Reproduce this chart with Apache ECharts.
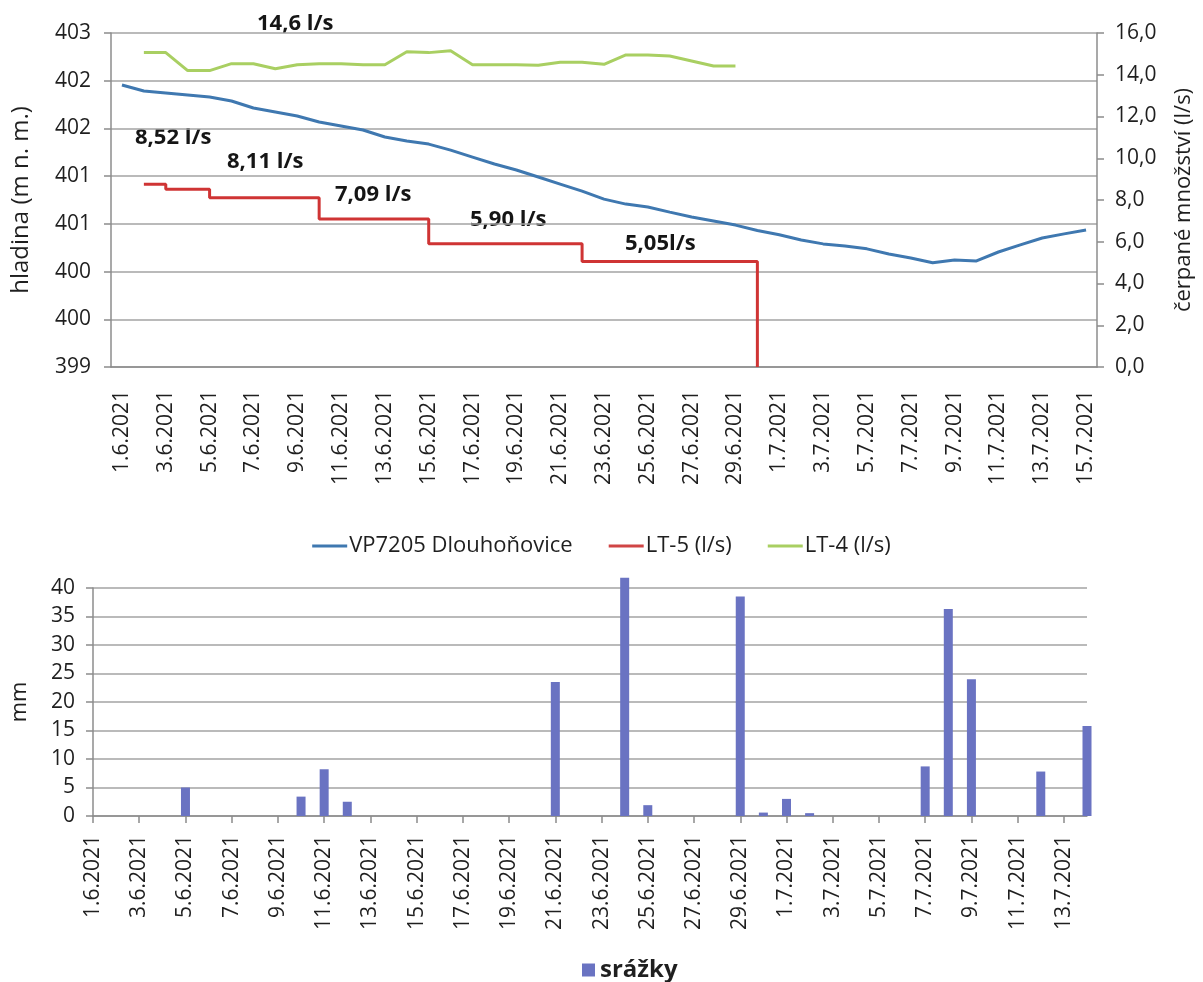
<!DOCTYPE html>
<html>
<head>
<meta charset="utf-8">
<script src="https://cdn.jsdelivr.net/npm/echarts@6/dist/echarts.min.js"></script>
<style>
html,body{margin:0;padding:0;background:#fff;}
#c{width:1203px;height:982px;}
</style>
</head>
<body>
<div id="c"></div>
<script>
// ---- data ----
var datesTop = ["1.6.2021","2.6.2021","3.6.2021","4.6.2021","5.6.2021","6.6.2021","7.6.2021","8.6.2021","9.6.2021","10.6.2021",
"11.6.2021","12.6.2021","13.6.2021","14.6.2021","15.6.2021","16.6.2021","17.6.2021","18.6.2021","19.6.2021","20.6.2021",
"21.6.2021","22.6.2021","23.6.2021","24.6.2021","25.6.2021","26.6.2021","27.6.2021","28.6.2021","29.6.2021","30.6.2021",
"1.7.2021","2.7.2021","3.7.2021","4.7.2021","5.7.2021","6.7.2021","7.7.2021","8.7.2021","9.7.2021","10.7.2021",
"11.7.2021","12.7.2021","13.7.2021","14.7.2021","15.7.2021"];
var datesBottom = ["1.6.2021","2.6.2021","3.6.2021","4.6.2021","5.6.2021","6.6.2021","7.6.2021","8.6.2021","9.6.2021","10.6.2021",
"11.6.2021","12.6.2021","13.6.2021","14.6.2021","15.6.2021","16.6.2021","17.6.2021","18.6.2021","19.6.2021","20.6.2021",
"21.6.2021","22.6.2021","23.6.2021","24.6.2021","25.6.2021","26.6.2021","27.6.2021","28.6.2021","29.6.2021","30.6.2021",
"1.7.2021","2.7.2021","3.7.2021","4.7.2021","5.7.2021","6.7.2021","7.7.2021","8.7.2021","9.7.2021","10.7.2021",
"11.7.2021","12.7.2021","13.7.2021","14.7.2021"];

var vp7205 = [401.955,401.892,401.871,401.850,401.829,401.787,401.714,401.672,401.630,401.567,
401.525,401.483,401.410,401.368,401.336,401.273,401.200,401.127,401.064,400.991,
400.917,400.843,400.759,400.707,400.676,400.623,400.571,400.529,400.487,400.430,
400.385,400.330,400.290,400.268,400.238,400.185,400.143,400.092,400.122,400.112,
400.205,400.280,400.352,400.395,400.435];

var lt5 = [null,8.75,8.52,8.52,8.11,8.11,8.11,8.11,8.11,7.09,
7.09,7.09,7.09,7.09,5.90,5.90,5.90,5.90,5.90,5.90,
5.90,5.05,5.05,5.05,5.05,5.05,5.05,5.05,5.05,0];

var lt4 = [null,15.06,15.06,14.20,14.20,14.53,14.53,14.29,14.48,14.53,
14.53,14.48,14.48,15.10,15.06,15.15,14.48,14.48,14.48,14.46,
14.60,14.60,14.50,14.95,14.95,14.90,14.66,14.42,14.42];

var srazky = [0,0,0,0,5.0,0,0,0,0,3.4,
8.2,2.5,0,0,0,0,0,0,0,0,
23.5,0,0,41.8,1.9,0,0,0,38.5,0.6,
3.0,0.5,0,0,0,0,8.7,36.3,24.0,0,
0,7.8,0,15.8];

var annotations = ["14,6 l/s","8,52 l/s","8,11 l/s","7,09 l/s","5,90 l/s","5,05l/s"];
var leftTicks = {min:399, max:402.5, interval:0.5};
var rightTicks = {min:0, max:16, interval:2};
var rainTicks = {min:0, max:40, interval:5};

// ---- chart ----
var FONT = 'Open Sans';
var TXT = '#1f1f1f';
var GRID = '#a3a3a3';
var AX = '#8c8c8c';
var chart = echarts.init(document.getElementById('c'), null, {renderer:'canvas'});

var annPos = [[257,28],[135,142],[227,166],[335,199],[470,224],[625,248]];
var graphics = annotations.map(function(t,i){
  return {type:'text', left:annPos[i][0], top:annPos[i][1]-15,
    style:{text:t, fill:'#151515', font:'bold 22px "Open Sans"'}};
});

chart.setOption({
  animation:false,
  textStyle:{fontFamily:FONT},
  grid:[
    {left:111, right:103, top:33, height:334},
    {left:93, right:116, top:588, height:228}
  ],
  legend:[
    {data:['VP7205 Dlouhoňovice','LT-5 (l/s)','LT-4 (l/s)'], left:'center', top:530,
     icon:'rect', itemWidth:35, itemHeight:3, itemGap:36,
     textStyle:{fontFamily:FONT, fontSize:22, color:TXT, padding:[0,0,0,-3]}},
    {data:['srážky'], left:577, top:953, icon:'rect', itemWidth:13, itemHeight:13, itemGap:6,
     textStyle:{fontFamily:FONT, fontSize:24, fontWeight:'bold', color:TXT}}
  ],
  xAxis:[
    {type:'category', gridIndex:0, data:datesTop, boundaryGap:true,
     axisLine:{lineStyle:{color:AX, width:1.5}},
     axisTick:{interval:1, length:7, lineStyle:{color:AX, width:1.5}},
     axisLabel:{interval:1, rotate:90, fontSize:21, color:TXT, margin:23, fontFamily:FONT},
     splitLine:{show:false}},
    {type:'category', gridIndex:1, data:datesBottom, boundaryGap:false,
     axisLine:{lineStyle:{color:AX, width:1.5}},
     axisTick:{interval:1, length:7, lineStyle:{color:AX, width:1.5}},
     axisLabel:{interval:1, rotate:90, fontSize:21, color:TXT, margin:19, fontFamily:FONT},
     splitLine:{show:false}}
  ],
  yAxis:[
    {type:'value', gridIndex:0, min:leftTicks.min, max:leftTicks.max, interval:leftTicks.interval,
     name:'hladina (m n. m.)', nameLocation:'middle', nameRotate:90, nameGap:78,
     nameTextStyle:{fontSize:24, color:TXT, fontFamily:FONT},
     axisLine:{show:true, lineStyle:{color:AX, width:1.5}},
     axisTick:{show:true, length:7, lineStyle:{color:AX, width:1.5}},
     axisLabel:{fontSize:21, color:TXT, margin:20, formatter:function(v){return String(Math.round(v));}},
     splitLine:{show:true, lineStyle:{color:GRID, width:1.5}}},
    {type:'value', gridIndex:0, position:'right', min:rightTicks.min, max:rightTicks.max, interval:rightTicks.interval,
     name:'čerpané množství (l/s)', nameLocation:'middle', nameRotate:90, nameGap:76,
     nameTextStyle:{fontSize:22, color:TXT, fontFamily:FONT},
     axisLine:{show:true, lineStyle:{color:AX, width:1.5}},
     axisTick:{show:true, length:7, lineStyle:{color:AX, width:1.5}},
     axisLabel:{fontSize:21, color:TXT, margin:18, formatter:function(v){return v.toFixed(1).replace('.',',');}},
     splitLine:{show:false}},
    {type:'value', gridIndex:1, min:rainTicks.min, max:rainTicks.max, interval:rainTicks.interval,
     name:'mm', nameLocation:'middle', nameRotate:90, nameGap:62,
     nameTextStyle:{fontSize:22, color:TXT, fontFamily:FONT},
     axisLine:{show:true, lineStyle:{color:AX, width:1.5}},
     axisTick:{show:true, length:7, lineStyle:{color:AX, width:1.5}},
     axisLabel:{fontSize:21, color:TXT, margin:18},
     splitLine:{show:true, lineStyle:{color:GRID, width:1.5}}}
  ],
  series:[
    {name:'VP7205 Dlouhoňovice', type:'line', xAxisIndex:0, yAxisIndex:0, data:vp7205,
     symbol:'none', smooth:false, lineStyle:{color:'#3f78b0', width:3}, itemStyle:{color:'#3f78b0'}},
    {name:'LT-5 (l/s)', type:'line', xAxisIndex:0, yAxisIndex:1, data:lt5, step:'end',
     symbol:'none', lineStyle:{color:'#cf3434', width:3}, itemStyle:{color:'#d04545'}},
    {name:'LT-4 (l/s)', type:'line', xAxisIndex:0, yAxisIndex:1, data:lt4,
     symbol:'none', lineStyle:{color:'#a9cf62', width:3}, itemStyle:{color:'#a9cf62'}},
    {name:'srážky', type:'bar', xAxisIndex:1, yAxisIndex:2, data:srazky, barWidth:9, clip:false,
     itemStyle:{color:'#6a73c2'}}
  ],
  graphic:graphics
});
</script>
</body>
</html>
